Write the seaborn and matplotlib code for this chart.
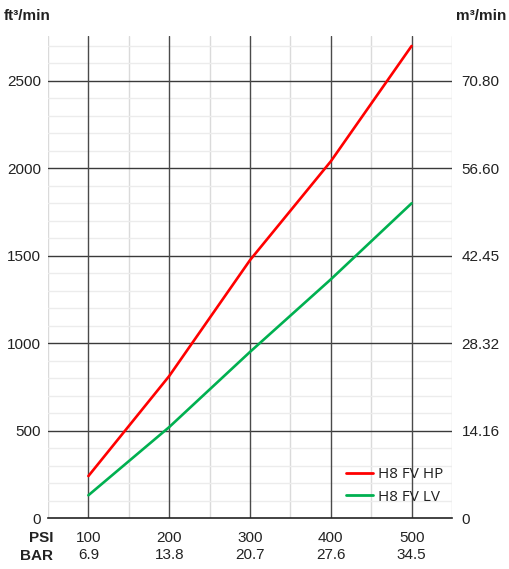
import matplotlib
matplotlib.use("Agg")
import matplotlib.pyplot as plt
from matplotlib.ticker import FixedLocator
import seaborn as sns
import pandas as pd
import numpy as np

psi = [100, 200, 300, 400, 500]
bar = ["6.9", "13.8", "20.7", "27.6", "34.5"]
hp = [240, 812, 1475, 2040, 2700]
lv = [130, 520, 950, 1365, 1800]
left_ticks = [0, 500, 1000, 1500, 2000, 2500]
right_labels = ["0", "14.16", "28.32", "42.45", "56.60", "70.80"]
series_names = ["H8 FV HP", "H8 FV LV"]

df = pd.DataFrame({
    "psi": psi * 2,
    "flow": hp + lv,
    "series": [series_names[0]] * len(psi) + [series_names[1]] * len(psi),
})

sns.set_theme(style="white")
plt.rcParams["font.family"] = ["Liberation Sans", "DejaVu Sans"]

W, H = 509, 569
fig = plt.figure(figsize=(W / 100, H / 100), dpi=100)
ax = fig.add_axes([48 / W, (H - 518) / H, (452 - 48) / W, (518 - 36) / H])

XMIN, XMAX, YMAX = 50, 550, 2757
ax.set_xlim(XMIN, XMAX)
ax.set_ylim(0, YMAX)

# grid: minor first, then major on top
for xv in np.arange(XMIN, XMAX + 1, 100):
    ax.axvline(xv, color="#dadada", linewidth=1.0, zorder=0.5)
for yv in np.arange(100, YMAX, 100):
    if yv not in left_ticks:
        ax.axhline(yv, color="#ececec", linewidth=1.0, zorder=0.5)
for yv in left_ticks[1:]:
    ax.axhline(yv, color="#3a3a3a", linewidth=1.0, zorder=0.7)
for xv in psi:
    ax.axvline(xv, color="#4a4a4a", linewidth=1.0, zorder=0.8)

sns.lineplot(data=df, x="psi", y="flow", hue="series",
             palette={series_names[0]: "#ff0000", series_names[1]: "#00b050"},
             linewidth=1.9, ax=ax, legend=True, zorder=3)

for s in ["top", "left", "right"]:
    ax.spines[s].set_visible(False)
ax.spines["bottom"].set_color("#222222")
ax.spines["bottom"].set_linewidth(1.2)
ax.spines["bottom"].set_zorder(2)

ax.set_xlabel("")
ax.set_ylabel("")
ax.yaxis.set_major_locator(FixedLocator(left_ticks))
ax.tick_params(axis="both", which="both", length=0)
ax.tick_params(axis="y", labelsize=11, colors="#222222", pad=5)
ax.set_xticks(psi)
ax.set_xticklabels([f"{p}\n{b}" for p, b in zip(psi, bar)], fontsize=11,
                   color="#222222", linespacing=1.28)
ax.tick_params(axis="x", pad=9)

ax2 = ax.twinx()
ax2.set_ylim(ax.get_ylim())
ax2.set_yticks(left_ticks)
ax2.set_yticklabels(right_labels, fontsize=11, color="#222222")
ax2.tick_params(axis="y", length=0, pad=7)
for s in ["top", "left", "right", "bottom"]:
    ax2.spines[s].set_visible(False)
ax2.grid(False)

leg = ax.legend(loc="lower right", frameon=False, fontsize=11,
                handlelength=1.8, handletextpad=0.3, labelspacing=0.5,
                bbox_to_anchor=(0.978, 0.028), borderaxespad=0.0, borderpad=0.0)
for t in leg.get_texts():
    t.set_family(["Open Sans", "DejaVu Sans"])
    t.set_color("#222222")
for l in leg.get_lines():
    l.set_linewidth(2.0)

fig.text(4 / W, 1 - 16 / H, "ft³/min", fontsize=11, fontweight="bold",
         ha="left", va="center", color="#222222")
fig.text(506 / W, 1 - 16 / H, "m³/min", fontsize=11, fontweight="bold",
         ha="right", va="center", color="#222222")
fig.text(53 / W, 1 - 538 / H, "PSI", fontsize=11, fontweight="bold",
         ha="right", va="center", color="#222222")
fig.text(53 / W, 1 - 556 / H, "BAR", fontsize=11, fontweight="bold",
         ha="right", va="center", color="#222222")

fig.savefig("out.png", dpi=100)
